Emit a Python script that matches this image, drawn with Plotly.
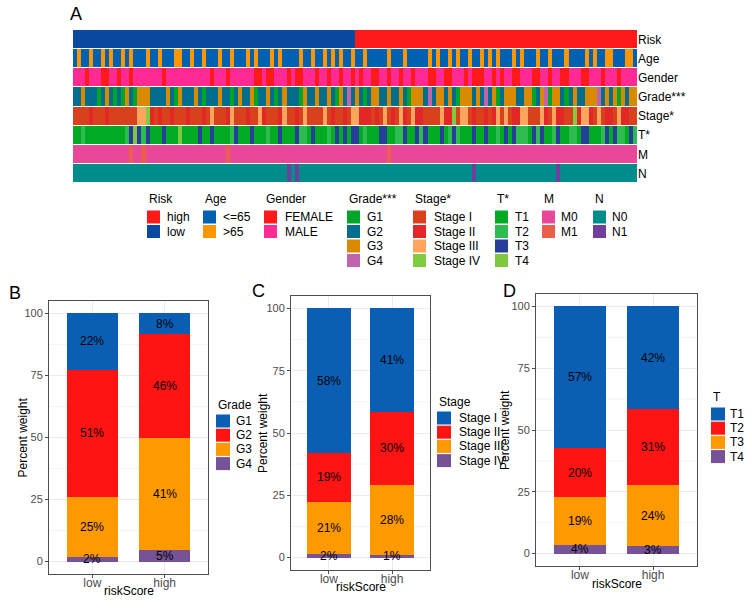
import plotly.graph_objects as go

W, H = 752, 612
FONT = "Liberation Sans, Arial, sans-serif"

# ---------------- panel A: clinical annotation heatmap ----------------
# 140 samples ordered by risk score, one character per sample
row_names = ["Risk", "Age", "Gender", "Grade***", "Stage*", "T*", "M", "N"]

risk_row = "1" * 70 + "0" * 70          # 0 = high, 1 = low
age_row = "".join(["0100100101", "0010100010", "0100011001", "0010001001",
                   "0001010001", "0100001001", "0010101001", "0010000010",
                   "0010000010", "1001010010", "0101010001", "0100010010",
                   "0010000101", "0011000110"])          # 0 = <=65, 1 = >65
gender_row = "".join(["1110111001", "1011011111", "1101111111", "1111011101",
                      "1111100100", "1110100111", "0110110110", "1011001101",
                      "1011011100", "1100111010", "0011010110", "0111001101",
                      "1001110011", "1011101111"])       # 0 = FEMALE, 1 = MALE
grade_row = "".join(["2232221232", "1213213332", "2223213222", "3212223221",
                     "2322312232", "1232221322", "3223213242", "3212332232",
                     "2321333242", "3323213332", "3242312333", "2233123413",
                     "3212322333", "4232313233"])        # 1..4 = G1..G4
stage_row = "".join(["1111211121", "1111113342", "1211211121", "1121311123",
                     "1112113211", "1231121311", "1131211213", "3222121312",
                     "1321322111", "1322413312", "1121231312", "2331113213",
                     "2211423321", "3122132211"])        # 1..4 = Stage I..IV
t_row = "".join(["1121111111", "1112343231", "1131114111", "1311311112",
                 "3111311121", "1311132213", "1112131313", "3121113311",
                 "2231132311", "1312321113", "1131121313", "2221323112",
                 "3112213311", "1231322132"])            # 1..4 = T1..T4
m_row = "".join(["0000000000", "0000100100", "0000000000", "0000000010",
                 "0000000000", "0000000000", "0000000000", "0000000010",
                 "0000000000", "0000000000", "0000000000", "0000000000",
                 "0000000000", "0000000000"])            # 0 = M0, 1 = M1
n_row = "".join(["0000000000", "0000000000", "0000000000", "0000000000",
                 "0000000000", "0001010000", "0000000000", "0000000000",
                 "0000000000", "0000000001", "0000000000", "0000000000",
                 "1000000000", "0000000000"])            # 0 = N0, 1 = N1

row_codes = [
    [int(c) for c in risk_row],
    [int(c) for c in age_row],
    [int(c) for c in gender_row],
    [int(c) - 1 for c in grade_row],
    [int(c) - 1 for c in stage_row],
    [int(c) - 1 for c in t_row],
    [int(c) for c in m_row],
    [int(c) for c in n_row],
]

legend_titles = ["Risk", "Age", "Gender", "Grade***", "Stage*", "T*", "M", "N"]
legend_labels = [
    ["high", "low"],
    ["<=65", ">65"],
    ["FEMALE", "MALE"],
    ["G1", "G2", "G3", "G4"],
    ["Stage I", "Stage II", "Stage III", "Stage IV"],
    ["T1", "T2", "T3", "T4"],
    ["M0", "M1"],
    ["N0", "N1"],
]
row_colors = [
    ["#FF1A1A", "#0A4A9E"],
    ["#0061B2", "#FF9500"],
    ["#FF1A1A", "#FF2A94"],
    ["#00A62A", "#006E8C", "#D98A00", "#BF65AE"],
    ["#D9401C", "#E32626", "#FFA55C", "#80CC40"],
    ["#00AA22", "#2EBB4F", "#283F99", "#80C840"],
    ["#E8479A", "#EB5E4A"],
    ["#008C8A", "#6F3FA0"],
]

# ---------------- panels B-D: stacked percentages ----------------
risk_groups = ["low", "high"]

grade_levels = ["G1", "G2", "G3", "G4"]
grade_low = [22.6, 51.3, 24.4, 1.7]
grade_high = [8.2, 42.1, 45.0, 4.7]
grade_text_low = ["22%", "51%", "25%", "2%"]
grade_text_high = ["8%", "46%", "41%", "5%"]

stage_levels = ["Stage I", "Stage II", "Stage III", "Stage IV"]
stage_low = [58.2, 19.3, 21.1, 1.4]
stage_high = [41.4, 29.6, 28.1, 0.9]
stage_text_low = ["58%", "19%", "21%", "2%"]
stage_text_high = ["41%", "30%", "28%", "1%"]

t_levels = ["T1", "T2", "T3", "T4"]
t_low = [57.4, 19.8, 19.2, 3.6]
t_high = [41.7, 30.7, 24.5, 3.1]
t_text_low = ["57%", "20%", "19%", "4%"]
t_text_high = ["42%", "31%", "24%", "3%"]

bar_colors = ["#0A5FB4", "#FF1414", "#FF9900", "#755396"]
y_ticks = [0, 25, 50, 75, 100]
y_minor = [12.5, 37.5, 62.5, 87.5]


def px(x):
    return x / W


def py(y):
    return 1 - y / H


fig = go.Figure()

# one heatmap; every row gets its own block of colours in a discrete scale
all_colors = [c for cols in row_colors for c in cols]
K = len(all_colors)
scale = []
for i, c in enumerate(all_colors):
    scale.append([i / K, c])
    scale.append([(i + 1) / K, c])

z = []
offset = 0
for codes, cols in zip(row_codes, row_colors):
    z.append([offset + v for v in codes])
    offset += len(cols)

fig.add_trace(go.Heatmap(
    z=z, x=list(range(len(risk_row))), y=list(range(len(row_names))),
    colorscale=scale, zmin=-0.5, zmax=K - 0.5, showscale=False,
    ygap=1, hoverinfo="skip", xaxis="x", yaxis="y"))

annotations = []

# stacked bars + percentage labels
panels = [
    (2, grade_levels, grade_low, grade_high, grade_text_low, grade_text_high),
    (3, stage_levels, stage_low, stage_high, stage_text_low, stage_text_high),
    (4, t_levels, t_low, t_high, t_text_low, t_text_high),
]
for n, levels, low, high, tlow, thigh in panels:
    base = [0, 0]
    for i in reversed(range(len(levels))):
        vals = [low[i], high[i]]
        fig.add_trace(go.Bar(
            x=risk_groups, y=vals, name=levels[i],
            marker=dict(color=bar_colors[i], line=dict(width=0)),
            width=0.7, showlegend=False, hoverinfo="skip",
            xaxis="x%d" % n, yaxis="y%d" % n))
        for g, (lab, v) in enumerate(zip([tlow[i], thigh[i]], vals)):
            annotations.append(dict(
                x=risk_groups[g], y=base[g] + v / 2, xref="x%d" % n,
                yref="y%d" % n, text=lab, showarrow=False,
                font=dict(size=12, color="black", family=FONT)))
            base[g] += v

layout = dict(
    width=W, height=H, margin=dict(l=0, r=0, t=0, b=0),
    paper_bgcolor="white", plot_bgcolor="white",
    font=dict(family=FONT, color="black", size=12),
    barmode="stack",
    xaxis=dict(domain=[px(73), px(637)], range=[-0.5, 139.5], visible=False),
    yaxis=dict(domain=[py(183), py(30)], range=[7.5, -0.5], side="right",
               tickvals=list(range(len(row_names))), ticktext=row_names,
               showgrid=False, zeroline=False, ticks="",
               tickfont=dict(size=12, color="black")),
)

bar_domains = [
    ([49, 208], [574, 301]),
    ([291, 430], [570, 296]),
    ([536, 697], [566, 294]),
]
for n, (dx, dy) in zip([2, 3, 4], bar_domains):
    layout["xaxis%d" % n] = dict(
        domain=[px(dx[0]), px(dx[1])], anchor="y%d" % n,
        categoryorder="array", categoryarray=risk_groups, range=[-0.6, 1.6],
        showline=True, mirror=True, linecolor="#4D4D4D", linewidth=1,
        showgrid=True, gridcolor="#EBEBEB", ticks="outside", ticklen=3,
        tickcolor="#4D4D4D", ticklabelstandoff=-5,
        tickfont=dict(size=12, color="#4D4D4D"))
    layout["yaxis%d" % n] = dict(
        domain=[py(dy[0]), py(dy[1])], anchor="x%d" % n, range=[-5, 105],
        tickvals=y_ticks, showline=True, mirror=True, linecolor="#4D4D4D",
        linewidth=1, showgrid=True, gridcolor="#EBEBEB", zeroline=False,
        ticks="outside", ticklen=3, tickcolor="#4D4D4D",
        tickfont=dict(size=11, color="#4D4D4D"))

fig.update_layout(**layout)

shapes = []

# faint minor grid lines of the bar panels
for n in [2, 3, 4]:
    for v in y_minor:
        shapes.append(dict(
            type="line", xref="x%d domain" % n, yref="y%d" % n, x0=0, x1=1,
            y0=v, y1=v, line=dict(color="#F5F5F5", width=1), layer="below"))


def add_text(x, y, text, size=12, xanchor="left", angle=0):
    annotations.append(dict(
        x=px(x), y=py(y), xref="paper", yref="paper", text=text,
        showarrow=False, xanchor=xanchor, yanchor="middle", textangle=angle,
        font=dict(size=size, color="black", family=FONT)))


def add_key(x, y, w, h, color):
    shapes.append(dict(
        type="rect", xref="paper", yref="paper", x0=px(x), x1=px(x + w),
        y0=py(y + h / 2), y1=py(y - h / 2), fillcolor=color,
        line=dict(width=0), layer="above"))


# heatmap legend block
legend_x = [(147, 165), (203, 221), (264, 283), (347, 365),
            (413, 432), (495, 513), (542, 559), (593, 610)]
for (sx, tx), title, labels, cols in zip(legend_x, legend_titles,
                                         legend_labels, row_colors):
    add_text(sx, 199, title)
    for j, (lab, c) in enumerate(zip(labels, cols)):
        yc = 217 + j * 14.5
        add_key(sx, yc, 13, 13, c)
        add_text(tx, yc, lab)

# bar legends
bar_legends = [
    ("Grade", grade_levels, 216, 234, 405, 421),
    ("Stage", stage_levels, 437, 457, 402, 418),
    ("T", t_levels, 711, 728, 397, 414),
]
for title, levels, sx, tx, ty, y0 in bar_legends:
    add_text(sx, ty, title)
    for j, lev in enumerate(levels):
        yc = y0 + j * 14.2
        add_key(sx, yc, 14, 13, bar_colors[j])
        add_text(tx, yc, lev)

# axis titles
for cx, ty in [((49 + 208) / 2, 591), ((291 + 430) / 2, 587),
               ((536 + 697) / 2, 584)]:
    add_text(cx, ty, "riskScore", xanchor="center")
for lx, cy in [(22, (301 + 574) / 2), (263, (296 + 570) / 2),
               (505, (294 + 566) / 2)]:
    add_text(lx, cy, "Percent weight", xanchor="center", angle=-90)

# panel letters
for letter, x, y in [("A", 68, 14), ("B", 7, 293), ("C", 250, 291), ("D", 501, 291)]:
    add_text(x, y, letter, size=18)

fig.update_layout(shapes=shapes, annotations=annotations)
fig.write_html("out.html", config={"displayModeBar": False},
               post_script="document.body.style.margin='0px';")
